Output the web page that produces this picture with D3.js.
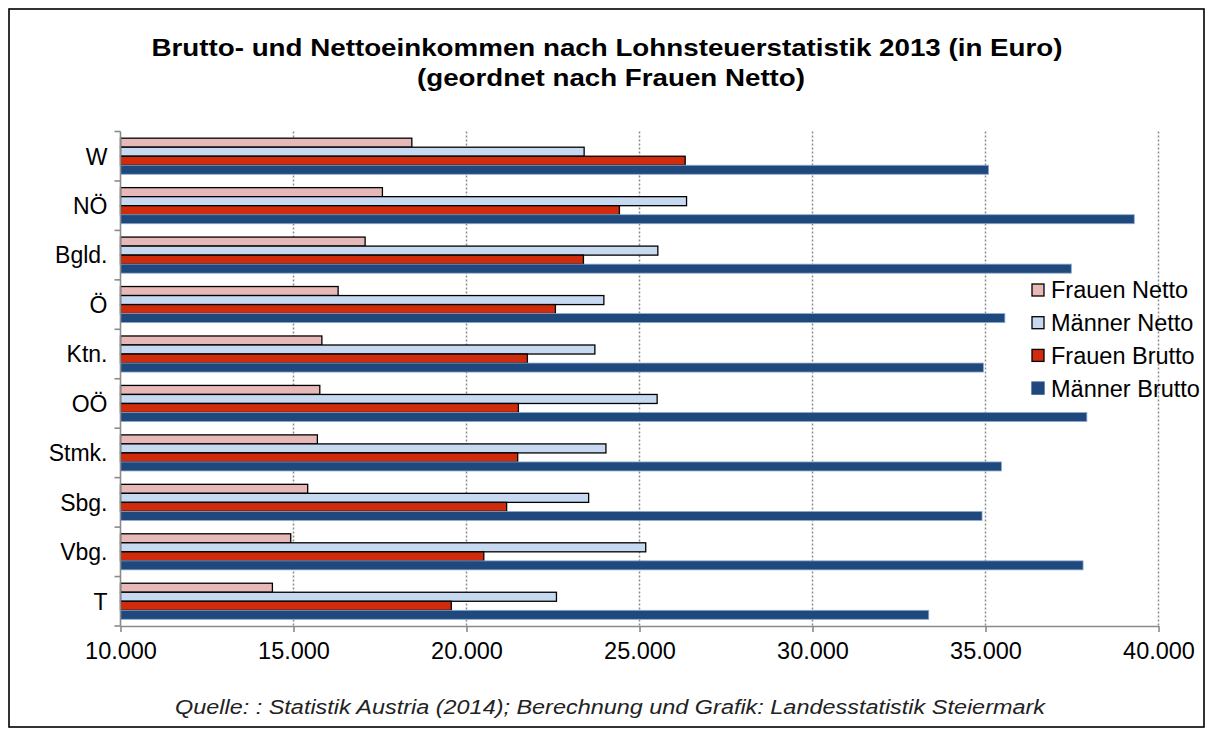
<!DOCTYPE html>
<html>
<head>
<meta charset="utf-8">
<script src="https://cdn.jsdelivr.net/npm/d3@7"></script>
<style>
  html,body{margin:0;padding:0;background:#fff;}
  svg{display:block;font-family:"Liberation Sans",Arial,sans-serif;}
</style>
</head>
<body>
<svg id="chart"></svg>
<script>
// ---------- DATA -------------------------------------------------------
const regions      = ['W','NÖ','Bgld.','Ö','Ktn.','OÖ','Stmk.','Sbg.','Vbg.','T'];
const seriesNames  = ['Frauen Netto','Männer Netto','Frauen Brutto','Männer Brutto'];
const frauenNetto  = [18420,17570,17070,16290,15820,15760,15690,15410,14920,14390];
const maennerNetto = [23400,26360,25530,23970,23710,25510,24030,23530,25180,22600];
const frauenBrutto = [26320,24420,23380,22570,21760,21500,21480,21160,20500,19560];
const maennerBrutto= [35090,39300,37480,35560,34940,37930,35460,34900,37820,33360];
const xTicks       = [10000,15000,20000,25000,30000,35000,40000];

// ---------- CONSTANTS --------------------------------------------------
const W = 1214, H = 736;
const PLOT = {left:120.5, right:1158.5, top:131.5, bottom:626};
const COLORS = ['#e6b9b8','#c6d9f1','#cf2b0c','#1f497d'];
const STROKES = ['#000','#000','#000','#8eaad0'];

const values = [frauenNetto, maennerNetto, frauenBrutto, maennerBrutto];
const rows = regions.map((r,i)=>({region:r, vals:values.map(s=>s[i])}));

const svg = d3.select('#chart').attr('width',W).attr('height',H);

// frame
svg.append('rect').attr('x',9).attr('y',9).attr('width',1195).attr('height',718)
   .attr('fill','#fff').attr('stroke','#000').attr('stroke-width',1.6);

// title (text is a bit wider in the original, stretch to fit)
const title = svg.append('text').attr('text-anchor','middle')
   .attr('font-weight','bold').attr('font-size',24).attr('fill','#000');
title.append('tspan').attr('x',607).attr('y',56)
   .attr('textLength',911).attr('lengthAdjust','spacingAndGlyphs')
   .text('Brutto- und Nettoeinkommen nach Lohnsteuerstatistik 2013 (in Euro)');
title.append('tspan').attr('x',611).attr('y',86)
   .attr('textLength',388).attr('lengthAdjust','spacingAndGlyphs')
   .text('(geordnet nach Frauen Netto)');

// scales
const x = d3.scaleLinear().domain([10000,40000]).range([PLOT.left,PLOT.right]);
const y = d3.scaleBand().domain(regions).range([PLOT.top,PLOT.bottom]).padding(0);
const yi = d3.scaleBand().domain(d3.range(4)).range([0,y.bandwidth()]).paddingOuter(0.74).paddingInner(0);

// gridlines (dotted)
svg.append('g').selectAll('line').data(xTicks.slice(1)).join('line')
   .attr('x1',d=>x(d)).attr('x2',d=>x(d))
   .attr('y1',PLOT.top).attr('y2',PLOT.bottom)
   .attr('stroke','#8a8a8a').attr('stroke-width',1.5).attr('stroke-dasharray','2,2');

// bars
const grp = svg.append('g').selectAll('g').data(rows).join('g')
   .attr('transform',d=>`translate(0,${y(d.region)})`);
grp.selectAll('rect').data(d=>d.vals.map((v,k)=>({v,k}))).join('rect')
   .attr('x',x(10000))
   .attr('y',d=>yi(d.k))
   .attr('width',d=>x(d.v)-x(10000))
   .attr('height',yi.bandwidth())
   .attr('fill',d=>COLORS[d.k])
   .attr('stroke',d=>STROKES[d.k])
   .attr('stroke-width',d=>d.k===3?0.8:1.3);

// y axis
const yAxis = svg.append('g').attr('transform',`translate(${PLOT.left},0)`);
yAxis.append('line').attr('x1',0).attr('x2',0).attr('y1',PLOT.top).attr('y2',PLOT.bottom)
     .attr('stroke','#8a8a8a').attr('stroke-width',1.6);
yAxis.selectAll('.tk').data(regions.map(r=>y(r)).concat([PLOT.bottom])).join('line')
     .attr('x1',-6).attr('x2',0).attr('y1',d=>d).attr('y2',d=>d)
     .attr('stroke','#8a8a8a').attr('stroke-width',1.6);
yAxis.selectAll('text').data(regions).join('text')
     .attr('x',-13).attr('y',d=>y(d)+y.bandwidth()/2).attr('dy','0.36em')
     .attr('text-anchor','end').attr('font-size',23).attr('fill','#000').text(d=>d);

// x axis
const xAxis = svg.append('g').attr('transform',`translate(0,${PLOT.bottom})`)
   .call(d3.axisBottom(x).tickValues(xTicks).tickSizeInner(6).tickSizeOuter(0)
         .tickPadding(10).tickFormat(d=>d3.format(',')(d).replace(/,/g,'.')));
xAxis.select('.domain').attr('stroke','#8a8a8a').attr('stroke-width',1.6);
xAxis.selectAll('.tick line').attr('stroke','#8a8a8a').attr('stroke-width',1.6);
xAxis.selectAll('.tick text').attr('font-size',23.5).attr('fill','#000')
     .attr('font-family','"Liberation Sans",Arial,sans-serif');

// legend
const lg = svg.append('g').attr('transform','translate(1032,290)');
const li = lg.selectAll('g').data(seriesNames).join('g')
   .attr('transform',(d,i)=>`translate(0,${i*32.7})`);
li.append('rect').attr('x',0).attr('y',-6).attr('width',12).attr('height',12)
  .attr('fill',(d,i)=>COLORS[i]).attr('stroke',(d,i)=>i===3?COLORS[3]:'#000').attr('stroke-width',1.3);
li.append('text').attr('x',19).attr('y',0).attr('dy','0.36em')
  .attr('font-size',23.5).attr('fill','#000').text(d=>d);

// source
svg.append('text').attr('x',610).attr('y',714).attr('text-anchor','middle')
   .attr('font-style','italic').attr('font-size',20).attr('fill','#222')
   .attr('textLength',870).attr('lengthAdjust','spacingAndGlyphs')
   .text('Quelle: : Statistik Austria (2014); Berechnung und Grafik: Landesstatistik Steiermark');
</script>
</body>
</html>
